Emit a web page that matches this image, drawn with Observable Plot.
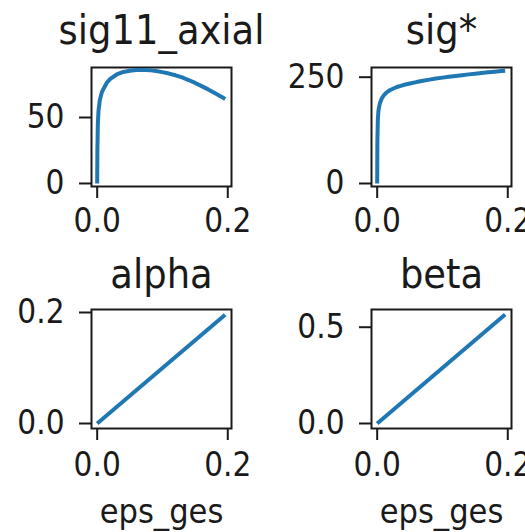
<!DOCTYPE html>
<html>
<head>
<meta charset="utf-8">
<script src="https://cdn.jsdelivr.net/npm/d3@7"></script>
<script src="https://cdn.jsdelivr.net/npm/@observablehq/plot@0.6"></script>
<style>
  html, body { margin: 0; padding: 0; background: #fff; }
  #wrap { position: relative; width: 525px; height: 532px; overflow: hidden; background: #fff; }
  .panel { position: absolute; }
  .panel svg { display: block; overflow: visible; }
</style>
</head>
<body>
<div id="wrap"></div>
<script>
// ---- data ----
const epsCurve = [0, 0.0003, 0.001, 0.002, 0.004, 0.007, 0.01, 0.015, 0.02, 0.03, 0.04, 0.05, 0.06, 0.07, 0.08, 0.09, 0.10, 0.11, 0.12, 0.13, 0.14, 0.15, 0.16, 0.17, 0.18, 0.19, 0.196];
const sig11Axial = [0, 25, 45, 55, 63, 69, 72, 76.5, 79.3, 82.6, 84.5, 85.5, 86, 86.1, 85.9, 85.3, 84.4, 83.3, 82.0, 80.4, 78.4, 76.2, 73.8, 71.3, 68.6, 65.8, 64];
const sigStar = [0, 100, 150, 172, 188, 200, 207, 215, 220, 227, 231.5, 235, 238.5, 241.5, 244.3, 246.8, 249, 251, 253, 254.8, 256.6, 258.3, 259.9, 261.5, 263, 264.5, 265.4];
const epsLinear = [0, 0.196];
const alphaVals = [0, 0.196];
const betaVals = [0, 0.566];

const panelTitles = ["sig11_axial", "sig*", "alpha", "beta"];
const xLabel = "eps_ges";
const xTicks = [0, 0.2];
const xTickLabels = ["0.0", "0.2"];
const yTicksList = [[0, 50], [0, 250], [0, 0.2], [0, 0.5]];
const yTickLabelsList = [["0", "50"], ["0", "250"], ["0.0", "0.2"], ["0.0", "0.5"]];

// ---- layout ----
const INK = "#1a1a1a";
const BLUE = "#1f77b4";
const FONT = "DejaVu Sans";

const panels = [
  {left: 0,   top: 0,   width: 262, height: 260, mL: 91,  mR: 31, mT: 67, mB: 74,  x: epsCurve,  y: sig11Axial, yDomain: [-2.3, 87.9],    titleDy: -37, xPad: 10, xlabel: false},
  {left: 262, top: 0,   width: 263, height: 260, mL: 109, mR: 14, mT: 67, mB: 74,  x: epsCurve,  y: sigStar,    yDomain: [-7.06, 272.8],  titleDy: -37, xPad: 10, xlabel: false},
  {left: 0,   top: 260, width: 262, height: 272, mL: 91,  mR: 31, mT: 49, mB: 104, x: epsLinear, y: alphaVals,  yDomain: [-0.009, 0.2054], titleDy: -35, xPad: 12, xlabel: true},
  {left: 262, top: 260, width: 263, height: 272, mL: 109, mR: 14, mT: 49, mB: 104, x: epsLinear, y: betaVals,   yDomain: [-0.026, 0.592],  titleDy: -35, xPad: 12, xlabel: true}
];

const xDomain = [-0.0087, 0.2057];

function compress(svg, r) {
  svg.querySelectorAll("text").forEach(t => {
    const L = t.getComputedTextLength();
    if (L > 0) {
      t.setAttribute("textLength", (L * r).toFixed(1));
      t.setAttribute("lengthAdjust", "spacingAndGlyphs");
    }
  });
}

const wrap = document.getElementById("wrap");
panels.forEach((p, k) => {
  const data = p.x.map((xv, i) => ({x: xv, y: p.y[i]}));
  const xFmt = new Map(xTicks.map((t, i) => [t, xTickLabels[i]]));
  const yFmt = new Map(yTicksList[k].map((t, i) => [t, yTickLabelsList[k][i]]));
  const marks = [
    Plot.frame({stroke: INK, strokeWidth: 2}),
    Plot.axisX({ticks: xTicks, tickFormat: d => xFmt.get(d), tickSize: 12, tickPadding: p.xPad, strokeWidth: 2, stroke: INK, fill: INK, fontSize: 33, label: null}),
    Plot.axisY({ticks: yTicksList[k], tickFormat: d => yFmt.get(d), tickSize: 12, tickPadding: 15, strokeWidth: 2, stroke: INK, fill: INK, fontSize: 33, label: null}),
    Plot.line(data, {x: "x", y: "y", stroke: BLUE, strokeWidth: 4, strokeLinejoin: "round", strokeLinecap: "butt"}),
    Plot.text([panelTitles[k]], {frameAnchor: "top", text: d => d, dy: p.titleDy, lineAnchor: "middle", textAnchor: "middle", fontSize: 41, fill: INK})
  ];
  if (p.xlabel) {
    marks.push(Plot.text([xLabel], {frameAnchor: "bottom", text: d => d, dy: 84, lineAnchor: "middle", textAnchor: "middle", fontSize: 34, fill: INK}));
  }
  const svg = Plot.plot({
    width: p.width,
    height: p.height,
    marginLeft: p.mL,
    marginRight: p.mR,
    marginTop: p.mT,
    marginBottom: p.mB,
    style: {fontFamily: FONT, color: INK, background: "transparent", overflow: "visible"},
    x: {domain: xDomain},
    y: {domain: p.yDomain},
    marks
  });
  const div = document.createElement("div");
  div.className = "panel";
  div.style.left = p.left + "px";
  div.style.top = p.top + "px";
  div.appendChild(svg);
  wrap.appendChild(div);
  compress(svg, 0.9);
});
</script>
</body>
</html>
